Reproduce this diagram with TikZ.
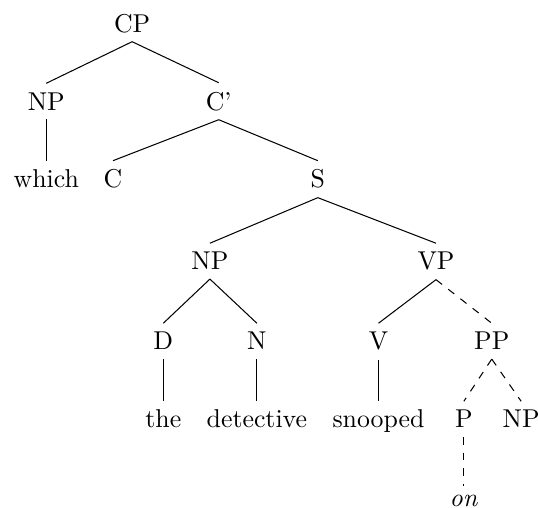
\documentclass[tikz,border=0pt]{standalone}
\begin{document}
\begin{tikzpicture}[every node/.style={anchor=base}]
                \useasboundingbox (0,0) rectangle (7.33,-6.921);
                \node (CP) at (1.80,-0.436) {CP};
                \node (NPwh) at (0.63,-1.499) {NP};
                \node (Cbar) at (2.98,-1.499) {C'};
                \node (which) at (0.63,-2.561) {which};
                \node (C) at (1.54,-2.561) {C};
                \node (S) at (4.33,-2.561) {S};
                \node (NPsubj) at (2.86,-3.678) {NP};
                \node (VP) at (5.94,-3.678) {VP};
                \node (D) at (2.225,-4.768) {D};
                \node (N) at (3.50,-4.768) {N};
                \node (V) at (5.157,-4.768) {V};
                \node (PP) at (6.70,-4.768) {PP};
                \node (the) at (2.225,-5.831) {the};
                \node (detective) at (3.50,-5.831) {detective};
                \node (snooped) at (5.157,-5.831) {snooped};
                \node (P) at (6.32,-5.831) {P};
                \node (NPobj) at (7.10,-5.831) {NP};
                \node (on) at (6.32,-6.900) {\textit{on}};
                \draw (CP.south) -- (NPwh.north);
                \draw (CP.south) -- (Cbar.north);
                \draw (NPwh.south) -- (which.north);
                \draw (Cbar.south) -- (C.north);
                \draw (Cbar.south) -- (S.north);
                \draw (S.south) -- (NPsubj.north);
                \draw (S.south) -- (VP.north);
                \draw (NPsubj.south) -- (D.north);
                \draw (NPsubj.south) -- (N.north);
                \draw (D.south) -- (the.north);
                \draw (N.south) -- (detective.north);
                \draw (VP.south) -- (V.north);
                \draw[dashed] (VP.south) -- (PP.north);
                \draw (V.south) -- (snooped.north);
                \draw[dashed] (PP.south) -- (P.north);
                \draw[dashed] (PP.south) -- (NPobj.north);
                \draw[dashed] (P.south) -- (on.north);
            \end{tikzpicture}
\end{document}
